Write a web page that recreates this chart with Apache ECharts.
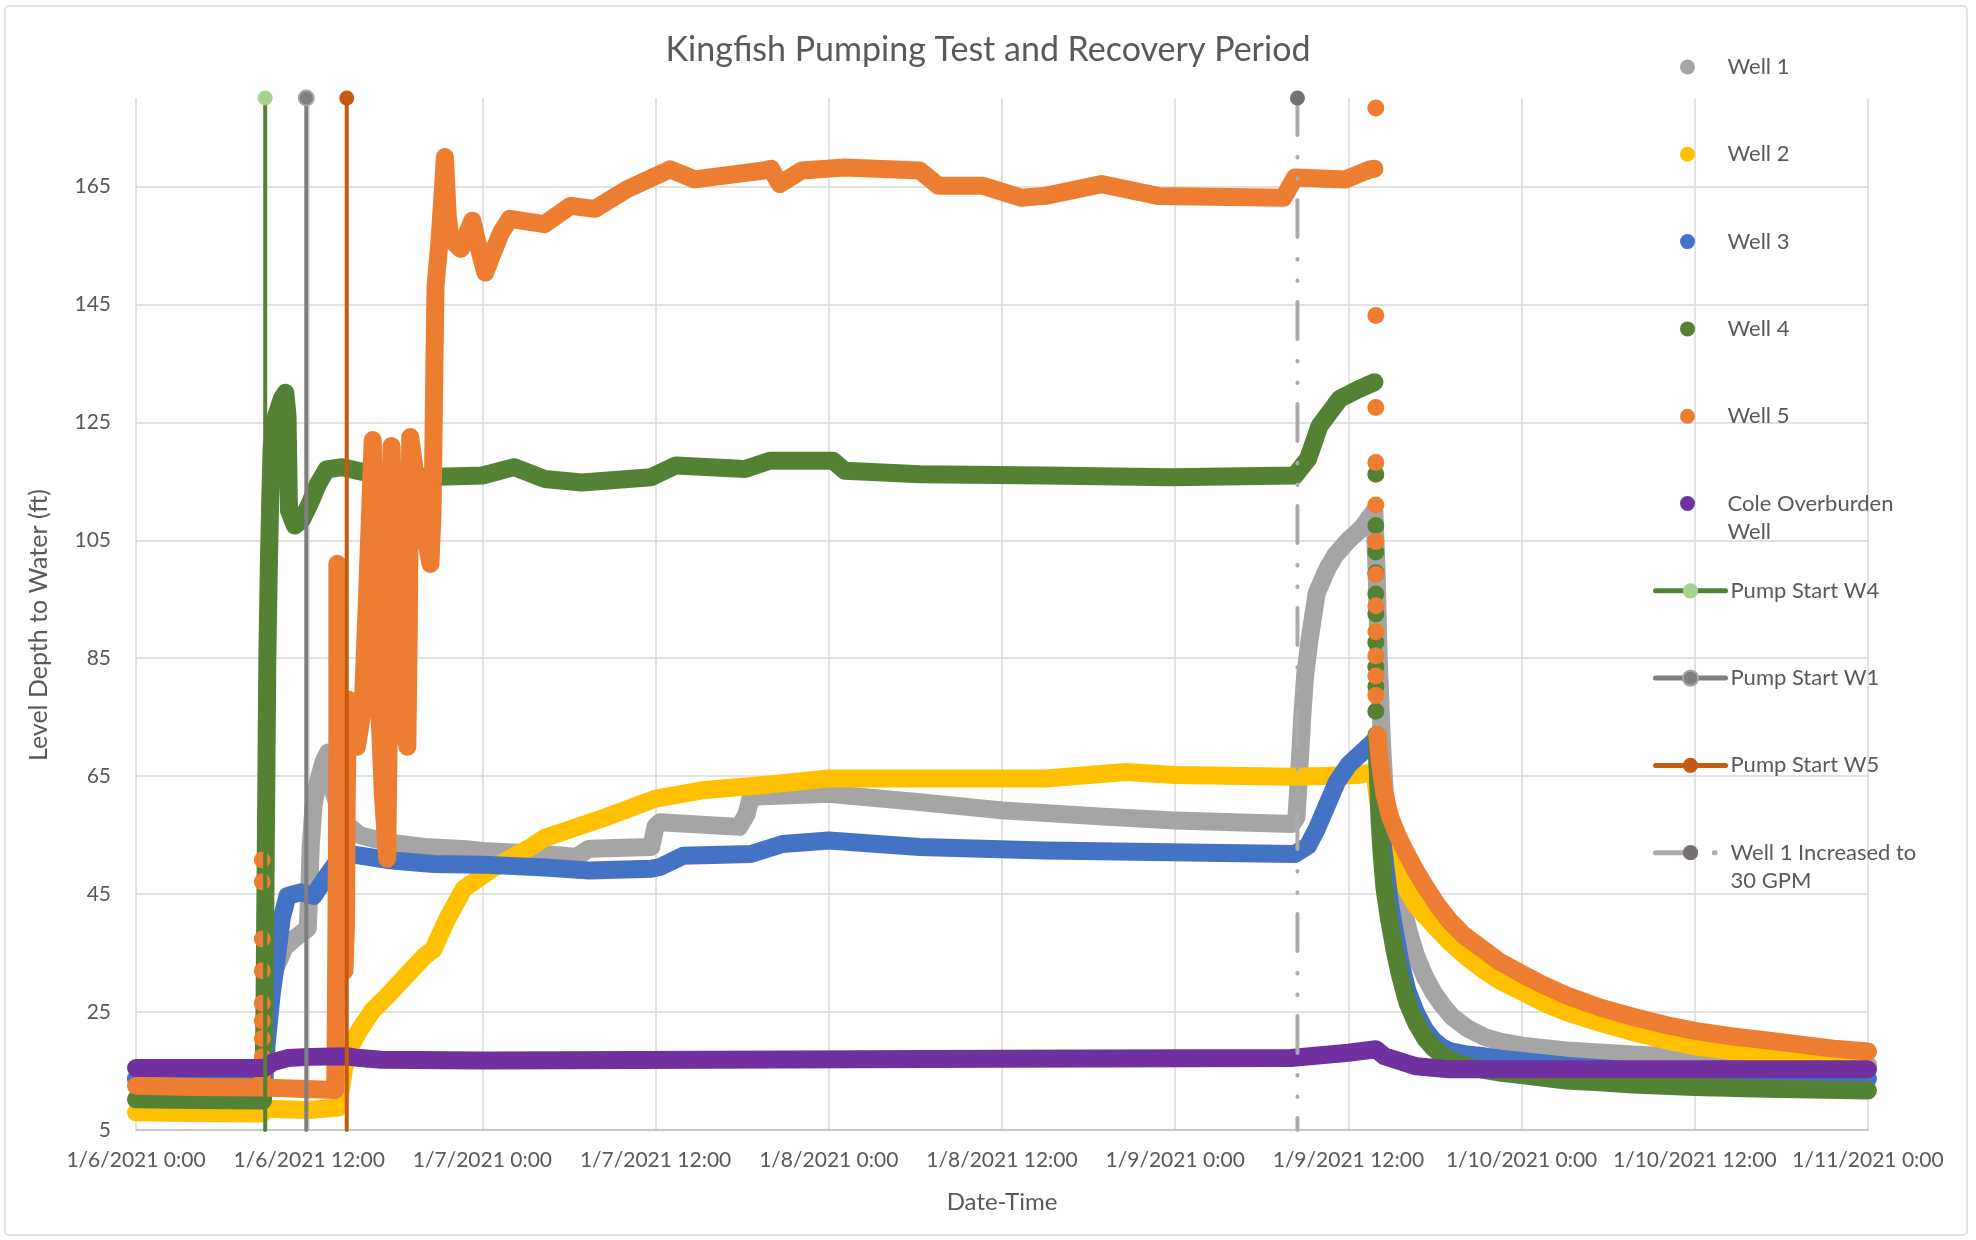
<!DOCTYPE html>
<html>
<head>
<meta charset="utf-8">
<title>Kingfish Pumping Test and Recovery Period</title>
<script src="https://cdn.jsdelivr.net/npm/echarts@6/dist/echarts.min.js"></script>
<style>
  html, body { margin: 0; padding: 0; background: #fff; }
  #chart { width: 1976px; height: 1240px; }
</style>
</head>
<body>
<div id="chart"></div>
<script>
// x values are hours since 1/6/2021 0:00, y values are level depth to water (ft)
const well1 = [[0,13.8],[8.8,13.8],[9.0,22],[9.1,28],[9.5,31.5],[10.3,36],[11.0,37.5],[11.9,39.2],[12.0,45],[12.1,53],[12.3,60],[12.6,64],[13.0,67.5],[13.3,69],[13.5,66],[13.7,62.3],[14.1,59],[14.6,56.8],[15.5,55],[16.4,54.4],[18.3,53.5],[20,53],[22.9,52.6],[24,52.3],[28.3,51.8],[30.5,51.3],[31.4,52.7],[35.7,53],[36.0,56.5],[36.3,57.2],[41.8,56.4],[42.3,58.5],[42.6,61.5],[48,62],[54.3,60.6],[60,59.2],[67.3,58.1],[72,57.5],[80.1,56.9],[80.4,58],[80.6,66],[80.8,75],[81.0,82],[81.3,88],[81.8,96],[82.5,100],[83.1,102.5],[84.0,105],[84.9,107],[85.8,110],[85.95,100],[86.1,85],[86.3,72],[86.5,63],[86.8,56],[87.1,51],[87.5,46],[87.8,42.5],[88.2,38.5],[88.7,34.5],[89.3,31],[89.9,28.3],[90.5,26.2],[91.2,24.2],[92.2,22.3],[93.4,20.8],[94.5,20],[96,19.3],[99.1,18.5],[103.7,17.8],[108,17.3],[113,16.8],[120,16]];

const well2 = [[0,8.0],[4,7.9],[8.75,7.8],[8.85,8.6],[12,8.4],[14.0,8.8],[14.2,12],[14.6,18],[15.5,22],[16.4,25.3],[17.4,27.7],[18.8,31.4],[20.0,34.5],[20.6,35.6],[21.5,40.5],[22.7,45.9],[24.8,49.5],[27.5,53.2],[28.3,54.5],[32.5,58],[36,61.2],[39.2,62.6],[43.5,63.5],[48,64.6],[54.3,64.6],[63,64.6],[66,65.2],[68.6,65.7],[72,65.2],[80.3,64.9],[84.7,65.2],[85.8,65.8],[86.0,62],[86.2,58.5],[86.4,55.5],[86.8,52],[87.3,49],[88,46],[88.7,43],[89.8,40],[91,36.9],[92.2,34.3],[93.4,32.1],[94.5,30.3],[96,28.5],[97.5,26.6],[99.1,25],[101.4,23.2],[103.7,21.6],[106,20.2],[108,19.2],[110.5,18.4],[113,17.7],[117.6,16.2],[120,15.4]];

const well3 = [[0,13.6],[8.9,13.6],[9.06,19.8],[9.4,28],[9.8,35],[10.1,41],[10.5,44.7],[11.4,45.3],[12.3,44.7],[13.3,48.3],[14.2,51.4],[15.1,51.7],[17.4,50.8],[20.6,50.1],[24,50],[28.3,49.5],[31.4,49],[35.7,49.3],[36.3,49.6],[37.9,51.5],[42.6,51.8],[44.8,53.5],[48,54.1],[54.3,53],[63,52.4],[80.3,51.8],[81.2,53.2],[81.8,56],[82.5,60],[83.2,64],[84,66.9],[85.5,70.3],[85.8,71],[86.0,68],[86.2,60],[86.4,53],[86.7,47],[86.9,43],[87.3,37.5],[87.6,33.5],[88.1,28.5],[88.7,24.8],[89.3,22],[89.9,20.2],[90.5,19],[91,18.4],[92.2,17.8],[93.4,17.5],[94.5,17.1],[96,16.7],[99.1,15.9],[103.7,15.1],[108,14.7],[113,14.3],[120,13.7]];

const well4Pumping = [[0,10.2],[4,10.1],[8.8,10.0],[8.85,15],[8.9,25],[8.95,40],[9.0,55],[9.05,70],[9.1,85],[9.2,100],[9.3,112],[9.4,121],[9.7,126],[10.1,129],[10.35,130],[10.5,126],[10.55,118],[10.6,110],[11.0,107.5],[11.5,108.5],[12.0,111],[12.6,114.5],[13.2,117],[14.3,117.4],[15.7,116.6],[18,115.7],[19.7,115.7],[24,116],[26.2,117.4],[28.3,115.4],[30.9,114.8],[35.7,115.7],[37.4,117.7],[42.2,117.1],[43.9,118.5],[48.3,118.5],[49.1,116.8],[54.3,116.2],[63,116],[71.7,115.7],[80.3,116],[81.2,118.8],[82,124.4],[83.4,129],[84.7,130.6],[85.8,131.8]];
const well4Dots = [[85.9,116.2],[85.9,107.5],[85.9,103],[85.9,99.5],[85.9,95.9],[85.9,92.5],[85.9,87.7],[85.9,83.5],[85.9,80.2],[85.9,76]];
const well4Recovery = [[85.95,72],[86.05,65],[86.15,58],[86.3,52],[86.5,46],[86.8,41],[87.2,35.5],[87.6,31],[88.1,26.5],[88.7,23.1],[89.3,20.6],[89.9,18.9],[90.6,17.5],[91.5,16.4],[92.4,15.7],[93.4,15.2],[94.6,14.7],[96,14.3],[99.1,13.4],[101.4,13.1],[103.7,12.7],[108,12.3],[113,12],[120,11.7]];

const well5Pumping = [[0,12.5],[4,12.3],[8.7,12.2],[8.8,11.9],[13.8,11.8],[13.85,25],[13.9,45],[13.95,70],[13.95,101],[14.05,80],[14.2,60],[14.35,45],[14.45,32],[14.55,40],[14.6,62],[14.7,78],[15.0,72],[15.3,70],[15.7,76],[16.0,95],[16.4,122],[16.6,100],[16.8,80],[17.1,62],[17.4,51],[17.5,70],[17.6,100],[17.7,121],[17.9,105],[18.2,88],[18.5,75],[18.8,70],[18.9,90],[19.0,122.5],[19.3,117],[19.7,110],[20.1,105],[20.4,101],[20.55,110],[20.65,130],[20.75,148],[21.0,155],[21.2,162],[21.4,170],[21.6,160],[21.8,156],[22.5,154.4],[23.3,159.2],[23.7,155],[24.2,150.4],[24.6,153],[25.3,157.2],[25.9,159.5],[28.3,158.6],[30.1,161.7],[31.8,161.2],[34,164.5],[37,167.9],[38.7,166.2],[43.5,167.7],[44.0,168],[44.6,165.4],[46.1,167.7],[49.1,168.2],[54.3,167.7],[55.6,165.1],[58.7,165.1],[61.3,163.1],[63,163.4],[66.9,165.4],[70.8,163.4],[79.5,163.1],[80.3,166.5],[83.8,166.2],[85.5,167.9],[85.8,168]];
const well5Dots = [[8.75,14],[8.75,17.4],[8.75,20.5],[8.75,23.5],[8.75,26.5],[8.75,32],[8.75,37.4],[8.75,47.1],[8.75,50.8],[85.9,178.3],[85.9,143.1],[85.9,127.5],[85.9,118.2],[85.9,111],[85.9,104.8],[85.9,99.2],[85.9,93.9],[85.9,89.5],[85.9,85.4],[85.9,82],[85.9,78.7]];
const well5Recovery = [[86.0,72],[86.2,67],[86.5,62],[86.9,58],[87.4,55],[88,52],[88.7,48.8],[89.4,46],[90.2,43],[91,40.5],[92,38],[93.4,35.5],[94.5,33.5],[96,31.5],[97.5,29.6],[99.1,27.8],[101.4,25.8],[103.7,24.2],[106,22.8],[108,21.8],[110.5,20.9],[113,20.2],[117.6,18.8],[120,18.3]];

const coleWell = [[0,15.5],[8.9,15.5],[9.5,16.5],[10.5,17.2],[12,17.4],[14.6,17.5],[15.5,17.2],[17,16.9],[24,16.8],[40,16.9],[60,17.1],[80,17.2],[84,18.1],[85.9,18.7],[86.5,17.5],[88.7,15.8],[91,15.3],[100,15.3],[120,15.3]];

// event times (hours since 1/6/2021 0:00)
const pumpStartW4 = 8.95;
const pumpStartW1 = 11.8;
const pumpStartW5 = 14.6;
const well1Increased = 80.47;

const yMin = 5, yMax = 180, yStep = 20;
const xMin = 0, xMax = 120, xStep = 12;

const legendNames = ['Well 1', 'Well 2', 'Well 3', 'Well 4', 'Well 5', 'Cole Overburden Well',
  'Pump Start W4', 'Pump Start W1', 'Pump Start W5', 'Well 1 Increased to 30 GPM'];
// leading empty line keeps the icon level with the first text line
const legendWrap = {
  'Cole Overburden Well': '\nCole Overburden\nWell',
  'Well 1 Increased to 30 GPM': '\nWell 1 Increased to\n30 GPM'
};

const FONT = 'Lato';
const TXT = '#595959';

function hourLabel(h) {
  const day = 6 + Math.floor(h / 24);
  const hr = h % 24;
  return '1/' + day + '/2021 ' + hr + ':00';
}

function wellLine(name, color, data) {
  return {
    name: name, type: 'line', data: data, symbol: 'none',
    lineStyle: { color: color, width: 18, cap: 'round', join: 'round' },
    itemStyle: { color: color }
  };
}

function wellDots(name, color, data) {
  return {
    name: name, type: 'scatter', data: data, symbolSize: 17,
    itemStyle: { color: color, opacity: 1 }
  };
}

// vertical event line, marker only on the top point
function eventLine(name, hour, lineColor, marker, dash, border) {
  return {
    name: name, type: 'line', symbol: 'circle', symbolSize: 15,
    data: [[hour, yMax], { value: [hour, yMin], symbol: 'none' }],
    lineStyle: { color: lineColor, width: 4, type: dash || 'solid', cap: 'round' },
    itemStyle: { color: marker, borderColor: border || marker, borderWidth: border ? 2 : 0 }
  };
}

const chart = echarts.init(document.getElementById('chart'));

const legends = legendNames.map(function (name, i) {
  const isWell = i < 6;
  const twoLine = !!legendWrap[name];
  const cy = 67 + i * 87.3;
  const item = { name: name };
  if (isWell) item.icon = 'circle';
  return {
    orient: 'vertical', left: isWell ? 1680 : 1653, top: twoLine ? cy - 42 : cy - 14,
    padding: 0, itemWidth: 70, itemHeight: isWell ? 15 : 19, selectedMode: false,
    data: [item],
    lineStyle: { width: 5 },
    formatter: function (n) { return legendWrap[n] || n; },
    textStyle: { fontFamily: FONT, fontSize: 22, color: TXT, lineHeight: 28 }
  };
});

const series = [
  wellLine('Well 1', '#A5A5A5', well1),
  wellLine('Well 2', '#FFC000', well2),
  wellLine('Well 3', '#4472C4', well3),
  wellLine('Well 4', '#548235', well4Pumping),
  wellDots('Well 4', '#548235', well4Dots),
  wellLine('Well 4', '#548235', well4Recovery),
  wellLine('Well 5', '#ED7D31', well5Pumping),
  wellDots('Well 5', '#ED7D31', well5Dots),
  wellLine('Well 5', '#ED7D31', well5Recovery),
  wellLine('Cole Overburden Well', '#7030A0', coleWell),
  eventLine('Pump Start W4', pumpStartW4, '#548235', '#A9D18E'),
  eventLine('Pump Start W1', pumpStartW1, '#7F7F7F', '#7F7F7F', null, '#A5A5A5'),
  eventLine('Pump Start W5', pumpStartW5, '#C55A11', '#C55A11'),
  eventLine('Well 1 Increased to 30 GPM', well1Increased, '#AEAAAA', '#767171', [37, 22, 0.5, 21, 0.5, 21])
];
// draw in the same order as the spreadsheet series
series.forEach(function (s, i) { s.z = 10 + i; });

chart.setOption({
  animation: false,
  backgroundColor: '#fff',
  textStyle: { fontFamily: FONT },
  title: {
    text: 'Kingfish Pumping Test and Recovery Period',
    left: 'center', top: 33, padding: 0,
    textStyle: { fontFamily: FONT, fontSize: 34, fontWeight: 'normal', color: TXT }
  },
  legend: legends,
  grid: { left: 136, right: 108, top: 98, bottom: 110, containLabel: false },
  xAxis: {
    type: 'value', min: xMin, max: xMax, interval: xStep,
    name: 'Date-Time', nameLocation: 'middle', nameGap: 60,
    nameTextStyle: { fontFamily: FONT, fontSize: 24, color: TXT },
    axisLine: { show: true, lineStyle: { color: '#BFBFBF', width: 1.5 } },
    axisTick: { show: false },
    axisLabel: { formatter: hourLabel, fontFamily: FONT, fontSize: 21, color: TXT, margin: 20 },
    splitLine: { show: true, lineStyle: { color: '#D9D9D9', width: 1.5 } }
  },
  yAxis: {
    type: 'value', min: yMin, max: yMax, interval: yStep,
    name: 'Level Depth to Water (ft)', nameLocation: 'middle', nameGap: 85,
    nameTextStyle: { fontFamily: FONT, fontSize: 25, color: TXT, padding: [0, 22, 0, 0] },
    axisLine: { show: false },
    axisTick: { show: false },
    axisLabel: { fontFamily: FONT, fontSize: 21, color: TXT, margin: 25, showMaxLabel: false },
    splitLine: { show: true, showMaxLine: false, lineStyle: { color: '#D9D9D9', width: 1.5 } }
  },
  graphic: [{
    type: 'rect', shape: { x: 5, y: 6, width: 1962, height: 1229, r: 4 },
    style: { fill: 'none', stroke: '#D9D9D9', lineWidth: 1.5 }, silent: true
  }],
  series: series
});
</script>
</body>
</html>
